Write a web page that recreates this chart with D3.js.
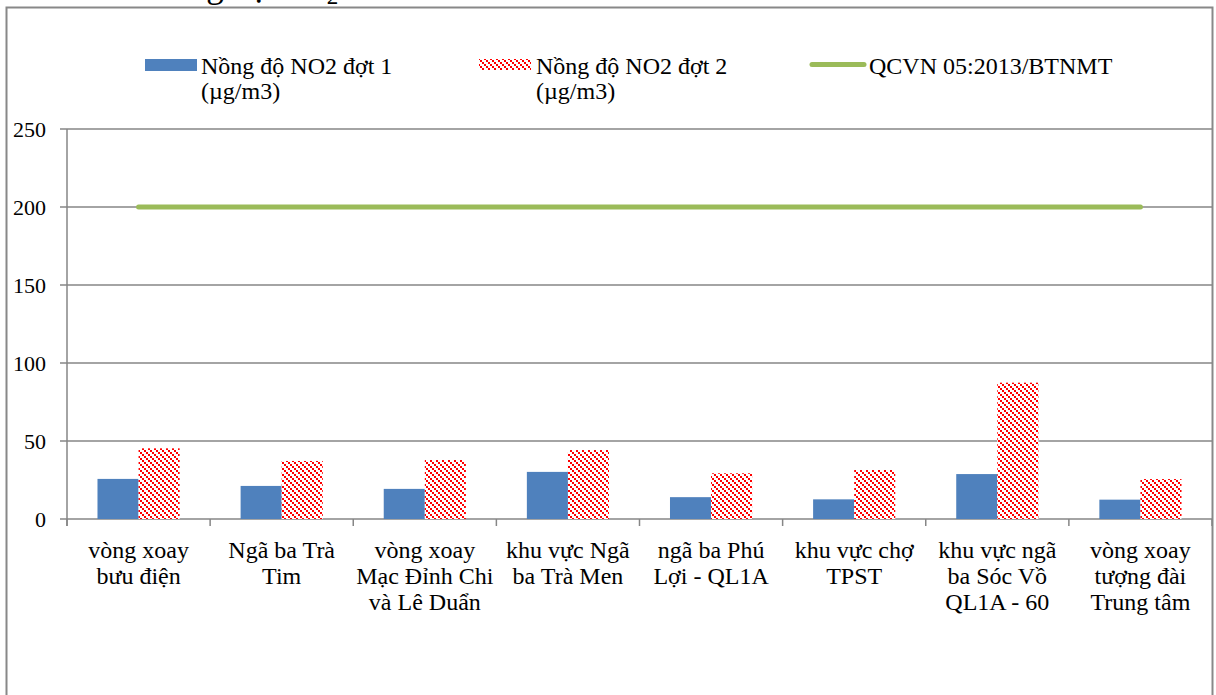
<!DOCTYPE html>
<html>
<head>
<meta charset="utf-8">
<script src="https://cdn.jsdelivr.net/npm/d3@7"></script>
<style>
  html, body { margin: 0; padding: 0; background: #fff; }
  svg { display: block; }
  text { font-family: "Liberation Serif", "Times New Roman", serif; fill: #000; }
</style>
</head>
<body>
<svg id="chart" width="1216" height="695"></svg>
<script>
// ---- data ----
const categories = [
  "vòng xoay bưu điện",
  "Ngã ba Trà Tim",
  "vòng xoay Mạc Đỉnh Chi và Lê Duẩn",
  "khu vực Ngã ba Trà Men",
  "ngã ba Phú Lợi - QL1A",
  "khu vực chợ TPST",
  "khu vực ngã ba Sóc Vồ QL1A - 60",
  "vòng xoay tượng đài Trung tâm"
];
const categoryLines = [
  ["vòng xoay", "bưu điện"],
  ["Ngã ba Trà", "Tim"],
  ["vòng xoay", "Mạc Đỉnh Chi", "và Lê Duẩn"],
  ["khu vực Ngã", "ba Trà Men"],
  ["ngã ba Phú", "Lợi - QL1A"],
  ["khu vực chợ", "TPST"],
  ["khu vực ngã", "ba Sóc Vồ", "QL1A - 60"],
  ["vòng xoay", "tượng đài", "Trung tâm"]
];
const round1 = [25.7, 21.2, 19.3, 30.2, 14.0, 12.6, 28.8, 12.4];
const round2 = [45.3, 37.2, 37.8, 44.2, 29.3, 31.4, 87.4, 25.6];
const standard = [200, 200, 200, 200, 200, 200, 200, 200];
const yTicks = [0, 50, 100, 150, 200, 250];
const seriesNames = [
  ["Nồng độ NO2 đợt 1", "(µg/m3)"],
  ["Nồng độ NO2 đợt 2", "(µg/m3)"],
  ["QCVN 05:2013/BTNMT"]
];

// ---- drawing ----
const svg = d3.select("#chart");
const gridColor = "#868686";
const blue = "#4F81BD";
const green = "#9BBB59";

const defs = svg.append("defs");
const pat = defs.append("pattern")
  .attr("id", "redPat").attr("patternUnits", "userSpaceOnUse")
  .attr("width", 6).attr("height", 6);
pat.append("rect").attr("width", 6).attr("height", 6).attr("fill", "#fff");
[[0, 0], [2, 2], [4, 4]].forEach(([px, py]) =>
  pat.append("rect").attr("x", px).attr("y", py).attr("width", 2).attr("height", 2).attr("fill", "#FF0000"));

// caption above the frame (cut off by the page edge, as in the source)
const cap = svg.append("text").attr("x", 146).attr("y", -3)
  .style("font-size", "35px");
cap.append("tspan").text("Nồng độ NO");
cap.append("tspan").attr("dy", 7).style("font-size", "23px").text("2");

// frame
svg.append("rect").attr("x", 6.5).attr("y", 7.5).attr("width", 1206).attr("height", 700)
  .attr("fill", "#fff").attr("stroke", "#888").attr("stroke-width", 2);

const x = d3.scaleBand().domain(categories).range([67, 1212]).paddingInner(0).paddingOuter(0);
const y = d3.scaleLinear().domain([0, 250]).range([519, 129]);
const bw = x.bandwidth();
const barW = bw * 0.287;
const off = (bw - 2 * barW) / 2;

// gridlines
svg.append("g").selectAll("line").data(yTicks).join("line")
  .attr("x1", 60).attr("x2", 1212)
  .attr("y1", d => y(d)).attr("y2", d => y(d))
  .attr("stroke", gridColor).attr("stroke-width", 1.5);

// y axis line
svg.append("line").attr("x1", 67).attr("x2", 67).attr("y1", y(250)).attr("y2", y(0) + 7)
  .attr("stroke", gridColor).attr("stroke-width", 1.5);

// y tick labels
svg.append("g").selectAll("text").data(yTicks).join("text")
  .attr("x", 46).attr("y", d => y(d)).attr("dy", "0.35em")
  .attr("text-anchor", "end").style("font-size", "22px").text(d => d);

// x category ticks
const tickXs = categories.map(c => x(c)).concat([x(categories[categories.length - 1]) + bw]);
svg.append("g").selectAll("line").data(tickXs).join("line")
  .attr("x1", d => d).attr("x2", d => d).attr("y1", y(0)).attr("y2", y(0) + 7)
  .attr("stroke", gridColor).attr("stroke-width", 1.5);

// bars round 1
svg.append("g").selectAll("rect").data(round1).join("rect")
  .attr("x", (d, i) => x(categories[i]) + off)
  .attr("y", d => y(d)).attr("width", barW).attr("height", d => y(0) - y(d))
  .attr("fill", blue);

// bars round 2
svg.append("g").selectAll("rect").data(round2).join("rect")
  .attr("x", (d, i) => x(categories[i]) + off + barW)
  .attr("y", d => y(d)).attr("width", barW).attr("height", d => y(0) - y(d))
  .attr("fill", "url(#redPat)");

// standard line
const line = d3.line().x((d, i) => x(categories[i]) + bw / 2).y(d => y(d));
svg.append("path").datum(standard).attr("d", line)
  .attr("fill", "none").attr("stroke", green).attr("stroke-width", 5).attr("stroke-linecap", "round");

// category labels
const lab = svg.append("g").selectAll("text").data(categoryLines).join("text")
  .attr("text-anchor", "middle").style("font-size", "24px")
  .attr("transform", (d, i) => `translate(${x(categories[i]) + bw / 2},558)`);
lab.selectAll("tspan").data(d => d).join("tspan")
  .attr("x", 0).attr("y", (d, i) => i * 26).text(d => d);

// legend
const leg = svg.append("g");
leg.append("rect").attr("x", 145).attr("y", 59).attr("width", 52).attr("height", 12).attr("fill", blue);
leg.append("rect").attr("x", 479).attr("y", 59).attr("width", 52).attr("height", 11).attr("fill", "url(#redPat)");
leg.append("line").attr("x1", 812).attr("x2", 864).attr("y1", 64.5).attr("y2", 64.5)
  .attr("stroke", green).attr("stroke-width", 5).attr("stroke-linecap", "round");
const legX = [201, 536, 869];
seriesNames.forEach((lines, i) => {
  const t = leg.append("text").style("font-size", "24px");
  lines.forEach((s, j) => t.append("tspan").attr("x", legX[i]).attr("y", 74 + j * 25).text(s));
});
</script>
</body>
</html>
